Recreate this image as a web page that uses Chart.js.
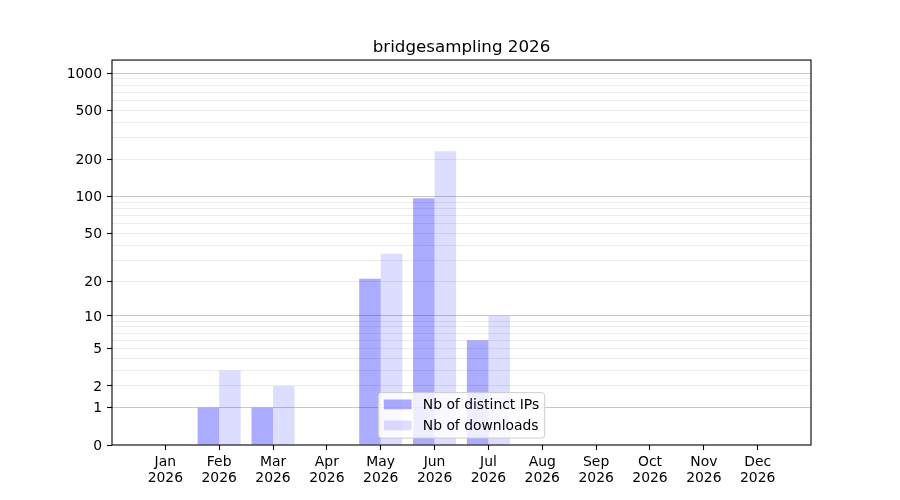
<!DOCTYPE html>
<html>
<head>
<meta charset="utf-8">
<title>bridgesampling 2026</title>
<script src="https://cdn.jsdelivr.net/npm/chart.js@4.4.1/dist/chart.umd.min.js"></script>
<style>
  html, body { margin: 0; padding: 0; background: #fff; }
  #wrap { width: 900px; height: 500px; position: relative; }
</style>
</head>
<body>
<div id="wrap"><canvas id="chart"></canvas></div>
<script>
// Monthly stats for the package
const months = ['Jan', 'Feb', 'Mar', 'Apr', 'May', 'Jun', 'Jul', 'Aug', 'Sep', 'Oct', 'Nov', 'Dec'];
const yearLabel = '2026';
const distinctIPs = [0, 1, 1, 0, 21, 97, 6, 0, 0, 0, 0, 0];
const downloads = [0, 3, 2, 0, 34, 234, 10, 0, 0, 0, 0, 0];

// y axis (log(1 + x) scale)
const yTickLabels = [0, 1, 2, 5, 10, 20, 50, 100, 200, 500, 1000];
const yMajorGrid = [1, 10, 100, 1000];
const yMinorGrid = [2, 3, 4, 5, 6, 7, 8, 9, 20, 30, 40, 50, 60, 70, 80, 90,
                    200, 300, 400, 500, 600, 700, 800, 900];
const yMax = 1280;

const FONT = 'DejaVu Sans';
const FS = 13.9;

// Scale that maps values through log10(1 + v), like matplotlib's symlog here
class Log1pScale extends Chart.LinearScale {
  static id = 'log1p';
  static defaults = {};

  determineDataLimits() {
    this.min = 0;
    this.max = this.options.max;
  }

  buildTicks() {
    const vals = [0, ...yMajorGrid, ...yMinorGrid].sort((a, b) => a - b);
    return vals.map(v => ({ value: v, major: yMajorGrid.includes(v) }));
  }

  configure() {
    super.configure();
    this._logTop = Math.log10(1 + this.max);
  }

  getPixelForValue(value) {
    const v = Math.max(value || 0, 0);
    return this.getPixelForDecimal(Math.log10(1 + v) / this._logTop);
  }

  getValueForPixel(pixel) {
    return Math.pow(10, this.getDecimalForPixel(pixel) * this._logTop) - 1;
  }
}
Chart.register(Log1pScale);

// Legend box inside the plot, bottom centre
const insideLegend = {
  id: 'insideLegend',
  afterDraw(chart) {
    const ctx = chart.ctx;
    const area = chart.chartArea;
    const sets = chart.data.datasets;
    ctx.save();
    ctx.font = `${FS}px "${FONT}"`;
    const textW = Math.max(...sets.map(d => ctx.measureText(d.label).width));
    const pad = 0.4 * FS, handle = 2 * FS, gap = 0.8 * FS, rowH = 21;
    const w = pad * 2 + handle + gap + textW;
    const h = 45.4;
    const x = (area.left + area.right) / 2 - w / 2;
    const y = area.bottom - 0.5 * FS - h;

    ctx.beginPath();
    ctx.roundRect(x, y, w, h, 3);
    ctx.fillStyle = 'rgba(255,255,255,0.8)';
    ctx.fill();
    ctx.strokeStyle = '#cccccc';
    ctx.lineWidth = 1;
    ctx.stroke();

    sets.forEach((d, i) => {
      const cy = y + pad + 6.2 + i * rowH;
      ctx.fillStyle = d.backgroundColor;
      ctx.fillRect(x + pad, cy - 4.9, handle, 9.8);
      ctx.fillStyle = '#000';
      ctx.textBaseline = 'middle';
      ctx.textAlign = 'left';
      ctx.fillText(d.label, x + pad + handle + gap, cy + 1);
    });
    ctx.restore();
  }
};

// Black frame on all four sides of the plot
const frame = {
  id: 'frame',
  afterDatasetsDraw(chart) {
    const { left, right, top, bottom } = chart.chartArea;
    const ctx = chart.ctx;
    ctx.save();
    ctx.strokeStyle = '#000';
    ctx.lineWidth = 1.1;
    ctx.strokeRect(left, top, right - left, bottom - top);
    ctx.restore();
  }
};

Chart.defaults.font.family = FONT;
Chart.defaults.font.size = FS;
Chart.defaults.color = '#000';

new Chart(document.getElementById('chart'), {
  type: 'bar',
  data: {
    datasets: [
      {
        label: 'Nb of distinct IPs',
        data: distinctIPs.map((v, i) => ({ x: i, y: v })),
        backgroundColor: 'rgba(0,0,255,0.33)',
        borderWidth: 0
      },
      {
        label: 'Nb of downloads',
        data: downloads.map((v, i) => ({ x: i, y: v })),
        backgroundColor: 'rgba(0,0,255,0.135)',
        borderWidth: 0
      }
    ]
  },
  options: {
    responsive: true,
    maintainAspectRatio: false,
    animation: false,
    categoryPercentage: 0.8,
    barPercentage: 1.0,
    layout: { padding: { left: 0, right: 89, top: 0, bottom: 0 } },
    plugins: {
      legend: { display: false },
      tooltip: { enabled: false },
      title: {
        display: true,
        text: 'bridgesampling 2026',
        fullSize: false,
        color: '#000',
        font: { family: FONT, size: 16.7, weight: 'normal', lineHeight: 1.2 },
        padding: { top: 38, bottom: 2 }
      }
    },
    scales: {
      x: {
        type: 'linear',
        min: -0.99,
        max: 11.99,
        offset: false,
        border: { display: false },
        grid: {
          offset: false,
          drawOnChartArea: false,
          drawTicks: true,
          tickLength: 5,
          tickColor: '#000',
          tickWidth: 1.1
        },
        ticks: {
          autoSkip: false,
          maxRotation: 0,
          padding: 5,
          font: { size: FS, lineHeight: 1.13 },
          callback: (v) => [months[v], yearLabel]
        },
        afterBuildTicks: (scale) => {
          scale.ticks = months.map((m, i) => ({ value: i }));
        },
        afterFit: (scale) => { scale.height = 55; }
      },
      y: {
        type: 'log1p',
        max: yMax,
        border: { display: false },
        grid: {
          lineWidth: 1,
          color: (c) => {
            const v = c.tick ? c.tick.value : null;
            if (v === 0) return 'rgba(0,0,0,0)';
            return yMajorGrid.includes(v) ? '#c8c8c8' : '#ececec';
          },
          tickColor: (c) => (c.tick && yTickLabels.includes(c.tick.value)) ? '#000' : 'rgba(0,0,0,0)',
          tickLength: 5,
          tickWidth: 1.1
        },
        ticks: {
          autoSkip: false,
          padding: 5,
          labelOffset: 1,
          font: { size: FS },
          callback: (v) => yTickLabels.includes(v) ? String(v) : ''
        },
        afterFit: (scale) => { scale.width = 112; }
      }
    }
  },
  plugins: [frame, insideLegend]
});
</script>
</body>
</html>
